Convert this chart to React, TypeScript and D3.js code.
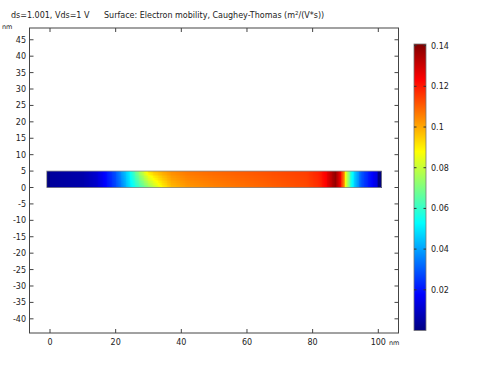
import React from "react";
import * as d3 from "d3";

// ---- data ----
const xTickValues = [0, 20, 40, 60, 80, 100];
const yTickValues = [45, 40, 35, 30, 25, 20, 15, 10, 5, 0, -5, -10, -15, -20, -25, -30, -35, -40];
const colorTickValues = [0.14, 0.12, 0.1, 0.08, 0.06, 0.04, 0.02];
const colorTickLabels = ["0.14", "0.12", "0.1", "0.08", "0.06", "0.04", "0.02"];

// Electron mobility (m^2/(V*s)) sampled along the channel (nm), at bottom (y=0) and top (y=5)
const profileX = [-1, -0.05, 0, 10, 14, 17, 20, 22, 24, 26, 28, 30, 32, 34, 37, 42, 50, 65, 78, 82, 84, 85.5, 87, 88.5, 89.5, 90, 91, 92, 93.5, 95, 98, 99.8, 100.05, 101];
const mobilityBottom = [0, 0, 0.004, 0.006, 0.01, 0.018, 0.027, 0.036, 0.047, 0.056, 0.064, 0.072, 0.08, 0.088, 0.097, 0.102, 0.105, 0.109, 0.113, 0.117, 0.123, 0.131, 0.138, 0.123, 0.105, 0.088, 0.07, 0.053, 0.04, 0.028, 0.018, 0.012, 0, 0];
const mobilityTop = [0, 0, 0.004, 0.006, 0.011, 0.019, 0.029, 0.04, 0.05, 0.066, 0.08, 0.092, 0.097, 0.1, 0.104, 0.107, 0.109, 0.112, 0.115, 0.119, 0.124, 0.132, 0.139, 0.124, 0.106, 0.089, 0.071, 0.054, 0.041, 0.029, 0.018, 0.012, 0, 0];
const stripY = [0, 5];
const colorRange = [0, 0.1408];

const titleLeft = "ds=1.001, Vds=1 V";
const titleRight = "Surface: Electron mobility, Caughey-Thomas (m";

// ---- layout ----
const W = 483, H = 366;
const frame = { left: 29.5, right: 398.5, top: 28, bottom: 333 };
const pxPerNm = 3.283;
const x0px = 50, y0px = 187.5;
const cb = { x: 414, w: 12, top: 44, bottom: 330.5 };
const FONT = "DejaVu Sans, sans-serif";
const TXT = "#222";

function jet(t: number): string {
  const c = (v: number) => Math.max(0, Math.min(1, v));
  const tt = c(t);
  const r = c(1.5 - Math.abs(4 * tt - 3));
  const g = c(1.5 - Math.abs(4 * tt - 2));
  const b = c(1.5 - Math.abs(4 * tt - 1));
  return d3.rgb(r * 255, g * 255, b * 255).formatHex();
}

export default function App() {
  const xScale = d3.scaleLinear()
    .domain([(frame.left - x0px) / pxPerNm, (frame.right - x0px) / pxPerNm])
    .range([frame.left, frame.right]);
  const yScale = d3.scaleLinear()
    .domain([(y0px - frame.bottom) / pxPerNm, (y0px - frame.top) / pxPerNm])
    .range([frame.bottom, frame.top]);
  const cScale = d3.scaleLinear().domain(colorRange).range([0, 1]);
  const cbY = d3.scaleLinear().domain(colorRange).range([cb.bottom, cb.top]);

  const botInterp = d3.scaleLinear().domain(profileX).range(mobilityBottom).clamp(true);
  const topInterp = d3.scaleLinear().domain(profileX).range(mobilityTop).clamp(true);

  const dx = 0.25, dy = 0.5;
  const cells: JSX.Element[] = [];
  const xStart = profileX[0], xEnd = profileX[profileX.length - 1];
  const nx = Math.round((xEnd - xStart) / dx);
  const ny = Math.round((stripY[1] - stripY[0]) / dy);
  for (let i = 0; i < nx; i++) {
    const xa = xStart + i * dx;
    const xc = xa + dx / 2;
    const vb = botInterp(xc), vt = topInterp(xc);
    for (let j = 0; j < ny; j++) {
      const ya = stripY[0] + j * dy;
      const f = (ya + dy / 2 - stripY[0]) / (stripY[1] - stripY[0]);
      const v = vb * (1 - f) + vt * f;
      const px = xScale(xa), px2 = xScale(xa + dx);
      const py = yScale(ya + dy), py2 = yScale(ya);
      cells.push(
        <rect key={`${i}-${j}`} x={px} y={py} width={px2 - px + 0.4} height={py2 - py + 0.4}
          fill={jet(cScale(v))} />
      );
    }
  }

  const jetStops = [0, 0.125, 0.375, 0.625, 0.875, 1];
  const tl = 4;

  return (
    <svg width={W} height={H} style={{ position: "absolute", left: 0, top: 0, background: "#fff" }}
      fontFamily={FONT}>
      <defs>
        <linearGradient id="jetGrad" x1="0" y1="1" x2="0" y2="0">
          {jetStops.map((s) => (
            <stop key={s} offset={s} stopColor={jet(s)} />
          ))}
        </linearGradient>
      </defs>

      {/* titles */}
      <text x={11} y={18} fontSize={8} fill={TXT}>{titleLeft}</text>
      <text x={104} y={18} fontSize={8} fill={TXT}>
        {titleRight}
        <tspan fontSize={5.5} dy={-3}>2</tspan>
        <tspan dy={3}>/(V*s))</tspan>
      </text>
      <text x={2} y={29} fontSize={6.5} fill={TXT}>nm</text>

      {/* strip */}
      <g shapeRendering="crispEdges">{cells}</g>
      <rect x={xScale(xStart)} y={yScale(stripY[1])} width={xScale(xEnd) - xScale(xStart)}
        height={yScale(stripY[0]) - yScale(stripY[1])} fill="none" stroke="#888" strokeWidth={0.8} />

      {/* frame */}
      <rect x={frame.left} y={frame.top} width={frame.right - frame.left} height={frame.bottom - frame.top}
        fill="none" stroke="#444" strokeWidth={1} />

      {/* x ticks */}
      {xTickValues.map((v) => (
        <g key={`x${v}`}>
          <line x1={xScale(v)} x2={xScale(v)} y1={frame.bottom} y2={frame.bottom - tl} stroke="#444" />
          <line x1={xScale(v)} x2={xScale(v)} y1={frame.top} y2={frame.top + tl} stroke="#444" />
          <text x={xScale(v)} y={344.5} fontSize={8} fill={TXT} textAnchor="middle">{v}</text>
        </g>
      ))}
      <text x={389} y={344.5} fontSize={6.5} fill={TXT}>nm</text>

      {/* y ticks */}
      {yTickValues.map((v) => (
        <g key={`y${v}`}>
          <line x1={frame.left} x2={frame.left + tl} y1={yScale(v)} y2={yScale(v)} stroke="#444" />
          <line x1={frame.right} x2={frame.right - tl} y1={yScale(v)} y2={yScale(v)} stroke="#444" />
          <text x={26} y={yScale(v) + 3} fontSize={8} fill={TXT} textAnchor="end">{v}</text>
        </g>
      ))}

      {/* colorbar */}
      <rect x={cb.x} y={cb.top} width={cb.w} height={cb.bottom - cb.top} fill="url(#jetGrad)"
        stroke="#777" strokeWidth={0.8} />
      {colorTickValues.map((v, i) => (
        <g key={`c${v}`}>
          <line x1={cb.x} x2={cb.x + 2.5} y1={cbY(v)} y2={cbY(v)} stroke="#333" />
          <line x1={cb.x + cb.w - 2.5} x2={cb.x + cb.w} y1={cbY(v)} y2={cbY(v)} stroke="#333" />
          <text x={431} y={cbY(v) + 3} fontSize={8} fill={TXT}>{colorTickLabels[i]}</text>
        </g>
      ))}
    </svg>
  );
}
